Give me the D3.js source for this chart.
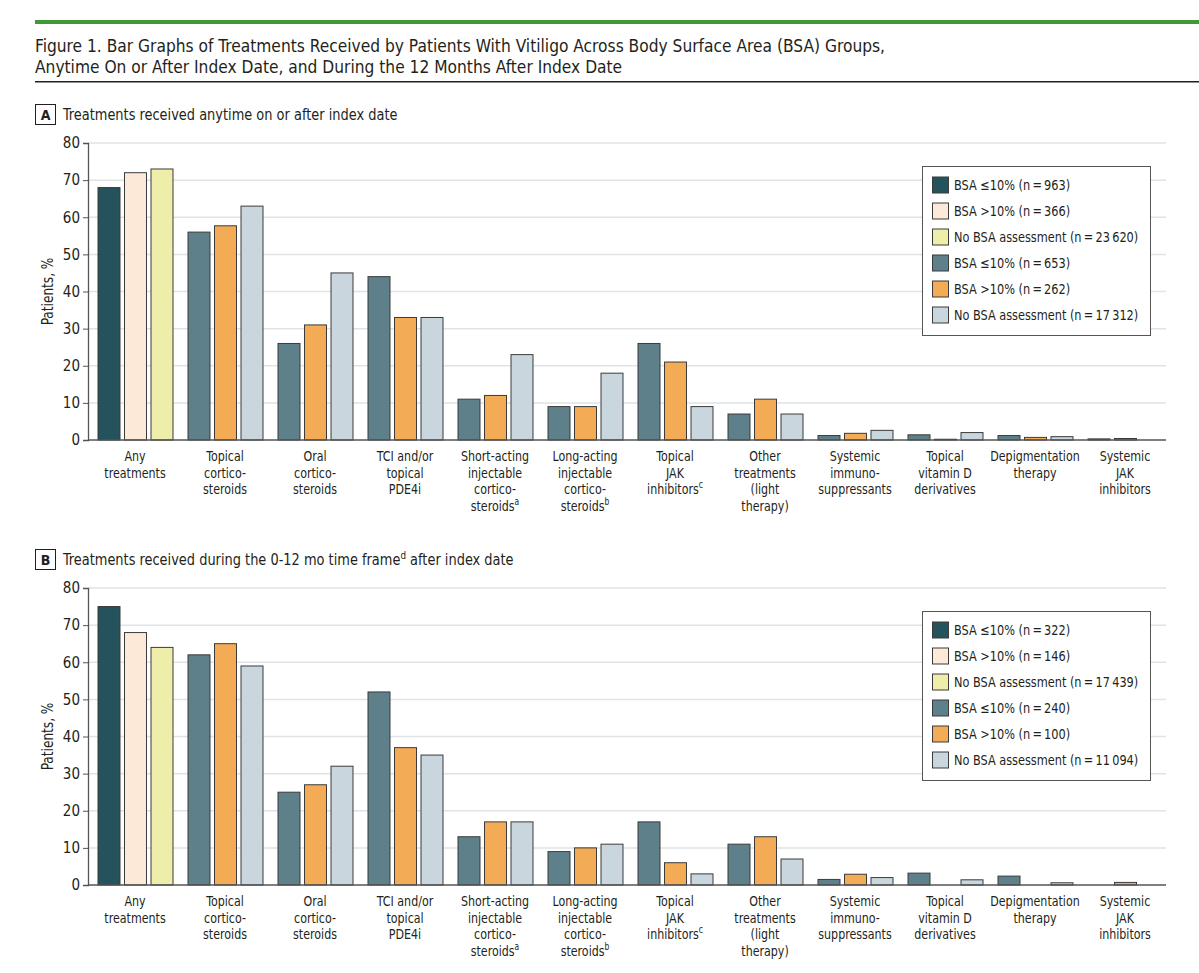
<!DOCTYPE html>
<html>
<head>
<meta charset="utf-8">
<script src="https://cdn.jsdelivr.net/npm/d3@7"></script>
<style>
  body { margin: 0; background: #fff; }
  svg { display: block; }
  text { font-family: "DejaVu Sans Condensed", "DejaVu Sans", sans-serif; fill: #231f20; }
</style>
</head>
<body>
<script>
// categories, each one as lines of its label ("^x" = superscript)
const categories = [
  ["Any", "treatments"],
  ["Topical", "cortico-", "steroids"],
  ["Oral", "cortico-", "steroids"],
  ["TCI and/or", "topical", "PDE4i"],
  ["Short-acting", "injectable", "cortico-", "steroids^a"],
  ["Long-acting", "injectable", "cortico-", "steroids^b"],
  ["Topical", "JAK", "inhibitors^c"],
  ["Other", "treatments", "(light", "therapy)"],
  ["Systemic", "immuno-", "suppressants"],
  ["Topical", "vitamin D", "derivatives"],
  ["Depigmentation", "therapy"],
  ["Systemic", "JAK", "inhibitors"]
]

// panel A: anytime on or after index date (% of patients)
const a_bsaLow  = [68, 56, 26, 44, 11, 9, 26, 7, 1.2, 1.4, 1.2, 0.3]
const a_bsaHigh = [72, 57.7, 31, 33, 12, 9, 21, 11, 1.8, 0.2, 0.7, 0.4]
const a_noBsa   = [73, 63, 45, 33, 23, 18, 9, 7, 2.6, 2.0, 0.9, 0]
const a_legend = [
  "BSA \u226410% (n\u2009=\u2009963)",
  "BSA >10% (n\u2009=\u2009366)",
  "No BSA assessment (n\u2009=\u200923\u2009620)",
  "BSA \u226410% (n\u2009=\u2009653)",
  "BSA >10% (n\u2009=\u2009262)",
  "No BSA assessment (n\u2009=\u200917\u2009312)"
]

// panel B: during the 0-12 mo time frame
const b_bsaLow  = [75, 62, 25, 52, 13, 9, 17, 11, 1.5, 3.2, 2.4, 0]
const b_bsaHigh = [68, 65, 27, 37, 17, 10, 6, 13, 2.9, 0, 0, 0.7]
const b_noBsa   = [64, 59, 32, 35, 17, 11, 3, 7, 2.0, 1.4, 0.6, 0]
const b_legend = [
  "BSA \u226410% (n\u2009=\u2009322)",
  "BSA >10% (n\u2009=\u2009146)",
  "No BSA assessment (n\u2009=\u200917\u2009439)",
  "BSA \u226410% (n\u2009=\u2009240)",
  "BSA >10% (n\u2009=\u2009100)",
  "No BSA assessment (n\u2009=\u200911\u2009094)"
]

const yTicks = [0, 10, 20, 30, 40, 50, 60, 70, 80]

// first category uses its own palette, the rest the second one
const colorsAny = ["#24525d", "#fde9d8", "#eeeeaa"]
const colorsOther = ["#5e808b", "#f4ab55", "#c9d6dd"]

const width = 1199
const height = 973

const svg = d3.select("body").append("svg")
  .attr("width", width)
  .attr("height", height)

// the journal font is narrower than anything installed, so squeeze text a bit
let narrowText = (parent, x, y, sx, size) =>
  parent.append("text")
    .attr("transform", `translate(${x},${y}) scale(${sx},1)`)
    .attr("font-size", size)

// writes a line, turning "^x" into a superscript letter
function addLine(t, str, lineX, lineY) {
  const parts = str.split("^")
  const first = t.append("tspan").text(parts[0])
  if (lineX !== undefined) first.attr("x", lineX).attr("y", lineY)
  if (parts[1]) {
    t.append("tspan").attr("font-size", "0.68em").attr("dy", -6).text(parts[1][0])
    if (parts[1].length > 1) t.append("tspan").attr("dy", 6).text(parts[1].slice(1))
  }
}

// header
svg.append("rect").attr("x", 35).attr("y", 20).attr("width", width - 35).attr("height", 4).attr("fill", "#3f9a35")
narrowText(svg, 35, 52, 0.93, 18.5)
  .text("Figure 1. Bar Graphs of Treatments Received by Patients With Vitiligo Across Body Surface Area (BSA) Groups,")
narrowText(svg, 35, 73, 0.93, 18.5)
  .text("Anytime On or After Index Date, and During the 12 Months After Index Date")
svg.append("rect").attr("x", 35).attr("y", 81).attr("width", width - 35).attr("height", 1.5).attr("fill", "#231f20")

function drawPanel(letter, heading, top, low, high, none, legendLabels) {
  const g = svg.append("g")
  const y0 = top + 336 // zero line
  const y80 = top + 39

  // panel heading
  g.append("rect").attr("x", 35.5).attr("y", top + 0.5).attr("width", 20).attr("height", 20)
    .attr("fill", "#fff").attr("stroke", "#231f20")
  g.append("text").attr("x", 45.5).attr("y", top + 15.5).attr("text-anchor", "middle")
    .attr("font-size", 14).attr("font-weight", "bold").text(letter)
  addLine(narrowText(g, 63, top + 15.5, 0.9, 16), heading)

  const x = d3.scaleBand().domain(d3.range(categories.length)).range([90, 1170])
  const xs = d3.scaleBand().domain([0, 1, 2]).range([7.5, 82.5]).paddingInner(0.17)
  const y = d3.scaleLinear().domain([0, 80]).range([y0, y80])

  // grid
  g.append("g").selectAll("line").data(yTicks.slice(1)).join("line")
    .attr("x1", 88).attr("x2", 1166)
    .attr("y1", (d) => y(d)).attr("y2", (d) => y(d))
    .attr("stroke", "#dfe3e5").attr("stroke-width", 1.5)

  // bars
  const rows = categories.map((c, i) => [low[i], high[i], none[i]])
  g.append("g").selectAll("g").data(rows).join("g")
    .attr("transform", (d, i) => `translate(${x(i)},0)`)
    .each(function (vals, i) {
      const pal = i === 0 ? colorsAny : colorsOther
      d3.select(this).selectAll("rect").data(vals.map((v, s) => ({ v, s })).filter((d) => d.v > 0))
        .join("rect")
        .attr("x", (d) => xs(d.s) + 0.5)
        .attr("width", xs.bandwidth())
        .attr("y", (d) => y(d.v))
        .attr("height", (d) => y0 - y(d.v))
        .attr("fill", (d) => pal[d.s])
        .attr("stroke", "#3b3b3b")
        .attr("stroke-width", 1)
    })

  // y axis
  const yAxis = g.append("g").attr("transform", "translate(88,0)")
    .call(d3.axisLeft(y).tickValues(yTicks).tickSize(5).tickPadding(3))
  yAxis.select(".domain").attr("stroke", "#555").attr("stroke-width", 1.3)
  yAxis.selectAll(".tick line").attr("stroke", "#555")
  yAxis.selectAll(".tick text").attr("font-size", 15).attr("fill", "#231f20")
    .attr("font-family", null)

  g.append("text")
    .attr("transform", `translate(53,${(y0 + y80) / 2}) rotate(-90) scale(0.9,1)`)
    .attr("text-anchor", "middle").attr("font-size", 15).text("Patients, %")

  // x axis line
  g.append("line").attr("x1", 88).attr("x2", 1166).attr("y1", y0).attr("y2", y0)
    .attr("stroke", "#555").attr("stroke-width", 1.5)

  // category labels
  g.append("g").selectAll("text").data(categories).join("text")
    .attr("transform", (d, i) => `translate(${x(i) + x.bandwidth() / 2},${y0 + 21}) scale(0.85,1)`)
    .attr("text-anchor", "middle").attr("font-size", 14.5)
    .each(function (lines) {
      const t = d3.select(this)
      lines.forEach((ln, k) => addLine(t, ln, 0, k * 16.6))
    })

  // legend
  const lx = 922, ly = top + 62
  const leg = g.append("g")
  leg.append("rect").attr("x", lx + 0.5).attr("y", ly + 0.5).attr("width", 228).attr("height", 169)
    .attr("fill", "#fff").attr("stroke", "#555")
  const colors = colorsAny.concat(colorsOther)
  const item = leg.selectAll("g").data(legendLabels).join("g")
    .attr("transform", (d, i) => `translate(${lx + 10},${ly + 19 + i * 26})`)
  item.append("rect").attr("x", 0.5).attr("y", -8).attr("width", 16).attr("height", 16)
    .attr("fill", (d, i) => colors[i]).attr("stroke", "#3b3b3b")
  item.append("text").attr("transform", "translate(22,5) scale(0.9,1)")
    .attr("font-size", 14).text((d) => d)
}

drawPanel("A", "Treatments received anytime on or after index date", 104,
  a_bsaLow, a_bsaHigh, a_noBsa, a_legend)
drawPanel("B", "Treatments received during the 0-12 mo time frame^d after index date", 549,
  b_bsaLow, b_bsaHigh, b_noBsa, b_legend)
</script>
</body>
</html>
